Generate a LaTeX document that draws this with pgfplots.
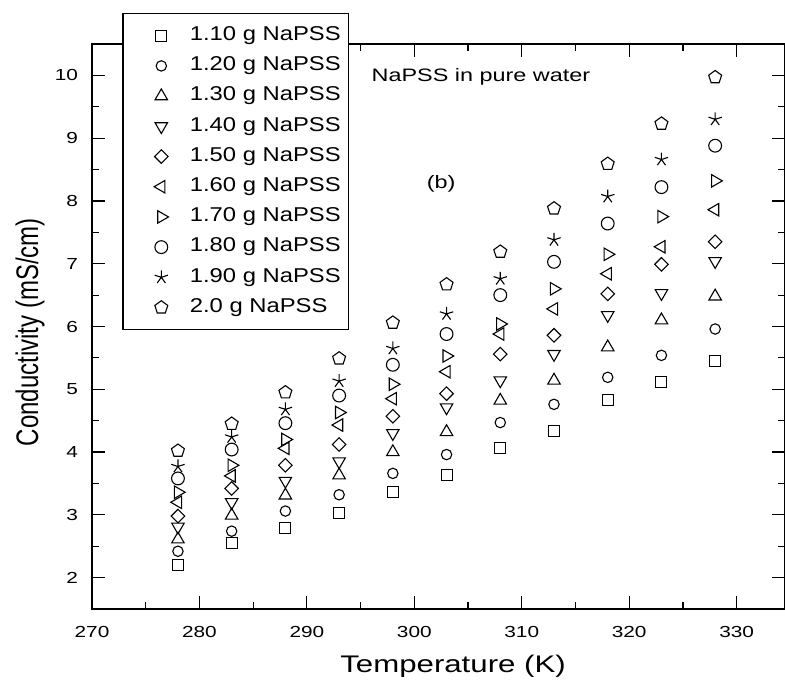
\documentclass[border=0pt]{standalone}
\usepackage{pgfplots}
\usepackage{pgfplotstable}
\pgfplotsset{compat=1.18}
\usepackage{fontspec}
\setmainfont{Liberation Sans}
\newcommand\hs[1]{\scalebox{1.3}[1]{#1}}
\newcommand\hl[1]{\scalebox{1.19}[1]{#1}}

\pgfplotstableread{
T   sA   sB   sC   sD   sE   sF   sG   sH   sI   sJ
278 2.20 2.42 2.61 2.81 2.98 3.20 3.36 3.58 3.77 4.02
283 2.55 2.74 2.99 3.20 3.42 3.62 3.79 4.04 4.24 4.45
288 2.79 3.06 3.31 3.54 3.79 4.06 4.20 4.46 4.68 4.95
293 3.03 3.32 3.63 3.85 4.12 4.43 4.63 4.90 5.13 5.49
298 3.37 3.66 4.00 4.30 4.57 4.85 5.08 5.39 5.65 6.06
303 3.64 3.96 4.32 4.71 4.93 5.28 5.53 5.88 6.20 6.67
308 4.07 4.47 4.82 5.14 5.56 5.88 6.04 6.50 6.76 7.19
313 4.34 4.76 5.14 5.56 5.86 6.28 6.60 7.03 7.38 7.88
318 4.83 5.19 5.67 6.18 6.52 6.84 7.15 7.64 8.07 8.59
323 5.11 5.54 6.10 6.53 6.99 7.27 7.75 8.22 8.66 9.23
328 5.45 5.96 6.48 7.04 7.35 7.86 8.32 8.88 9.30 9.97
}\data

\begin{document}
\begin{tikzpicture}
\begin{axis}[
  name=ax,
  scale only axis, width=346.5pt, height=282.5pt,
  xmin=270, xmax=334.5, ymin=1.5, ymax=10.5,
  xtick={270,280,...,330}, ytick={2,3,...,10},
  minor x tick num=1, minor y tick num=1,
  tick align=inside,
  major tick length=6.5pt, minor tick length=3.5pt,
  every axis/.append style={line width=0.75pt},
  every tick/.style={black, line width=0.6pt},
  /pgf/number format/assume math mode=true,
  xticklabel={\hs{\pgfmathprintnumber{\tick}}},
  yticklabel={\hs{\pgfmathprintnumber{\tick}}},
  tick label style={font=\fontsize{8}{9}\selectfont},
  xticklabel style={yshift=-4.8pt},
  yticklabel style={xshift=-3.3pt},
  xlabel={\hs{Temperature (K)}},
  ylabel={\scalebox{1}[1.3]{Conductivity (mS/cm)}},
  label style={font=\fontsize{12}{14}\selectfont, inner sep=0pt},
  xlabel style={at={(rel axis cs:0.521,0)}, anchor=center, yshift=-28.5pt},
  ylabel style={at={(rel axis cs:0,0.49)}, anchor=center, rotate=0, yshift=31pt},
  clip=false,
  legend cell align=left,
  legend image code/.code={\path (0pt,0pt) (23pt,0pt); \draw plot coordinates {(17pt,0pt)};},
  legend style={at={(0.0433,1.0549)}, anchor=north west,
    draw=black, line width=0.75pt, fill=white, font=\fontsize{10}{11}\selectfont,
    nodes={text height=6.6pt, text depth=1.9pt, inner ysep=2.75pt},
    inner xsep=2pt, inner ysep=4pt, column sep=6pt, row sep=1.1pt},
]
\addplot[only marks, black, line width=0.55pt, mark=square, mark size=2.75pt] table[x=T,y=sA]{\data};
\addlegendentry{\hl{1.10 g NaPSS}}
\addplot[only marks, black, line width=0.55pt, mark=o, mark size=2.6pt] table[x=T,y=sB]{\data};
\addlegendentry{\hl{1.20 g NaPSS}}
\addplot[only marks, black, line width=0.55pt, mark=triangle, mark size=3.6pt] table[x=T,y=sC]{\data};
\addlegendentry{\hl{1.30 g NaPSS}}
\addplot[only marks, black, line width=0.55pt, mark=triangle, mark size=3.6pt, mark options={rotate=180}] table[x=T,y=sD]{\data};
\addlegendentry{\hl{1.40 g NaPSS}}
\addplot[only marks, black, line width=0.55pt, mark=square, mark size=2.4pt, mark options={rotate=45}] table[x=T,y=sE]{\data};
\addlegendentry{\hl{1.50 g NaPSS}}
\addplot[only marks, black, line width=0.55pt, mark=triangle, mark size=3.6pt, mark options={rotate=90}] table[x=T,y=sF]{\data};
\addlegendentry{\hl{1.60 g NaPSS}}
\addplot[only marks, black, line width=0.55pt, mark=triangle, mark size=3.6pt, mark options={rotate=-90}] table[x=T,y=sG]{\data};
\addlegendentry{\hl{1.70 g NaPSS}}
\addplot[only marks, black, line width=0.55pt, mark=o, mark size=3.2pt] table[x=T,y=sH]{\data};
\addlegendentry{\hl{1.80 g NaPSS}}
\addplot[only marks, black, line width=0.55pt, mark=star, mark size=3.5pt] table[x=T,y=sI]{\data};
\addlegendentry{\hl{1.90 g NaPSS}}
\addplot[only marks, black, line width=0.55pt, mark=pentagon, mark size=3.4pt] table[x=T,y=sJ]{\data};
\addlegendentry{\hl{2.0 g NaPSS}}
\node[font=\fontsize{9}{10}\selectfont] at (axis cs:306.2,9.98) {\hs{NaPSS in pure water}};
\node[font=\fontsize{9}{10}\selectfont] at (axis cs:302.5,8.27) {\hs{(b)}};
\end{axis}
\pgfresetboundingbox
\path ([xshift=-46pt,yshift=-38.5pt]ax.south west) rectangle ([yshift=22pt]ax.north east);
\end{tikzpicture}
\end{document}
